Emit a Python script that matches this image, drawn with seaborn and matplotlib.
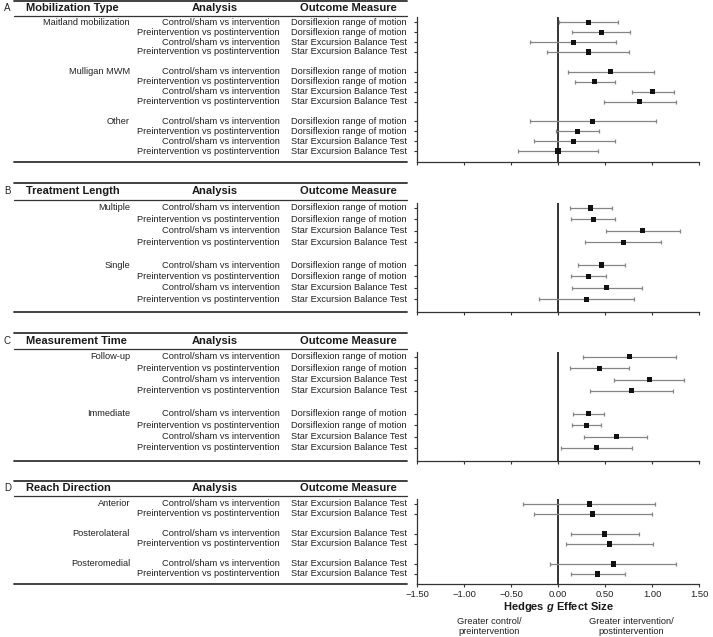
import numpy as np
import pandas as pd
import seaborn as sns
import matplotlib
matplotlib.use("Agg")
import matplotlib.pyplot as plt
from matplotlib.lines import Line2D
from matplotlib import transforms

sns.set_theme(style="ticks")
plt.rcParams["font.family"] = ["Liberation Sans", "DejaVu Sans"]
plt.rcParams["mathtext.fontset"] = "custom"
plt.rcParams["mathtext.it"] = "Liberation Sans:italic:bold"
plt.rcParams["mathtext.rm"] = "Liberation Sans:bold"

# ---------------- data ----------------
CSI = "Control/sham vs intervention"
PVP = "Preintervention vs postintervention"
DRM = "Dorsiflexion range of motion"
SEBT = "Star Excursion Balance Test"

# Panel A
title_A = "Mobilization Type"
groups_A = ["Maitland mobilization", "Mulligan MWM", "Other"]
sizes_A = [4, 4, 4]
analysis_A = [CSI, PVP, CSI, PVP] * 3
outcome_A = [DRM, DRM, SEBT, SEBT] * 3
g_A = [0.32, 0.46, 0.16, 0.32, 0.56, 0.39, 1.01, 0.87, 0.37, 0.21, 0.17, 0.00]
lo_A = [0.01, 0.15, -0.30, -0.12, 0.11, 0.18, 0.79, 0.49, -0.30, -0.02, -0.26, -0.43]
hi_A = [0.64, 0.77, 0.62, 0.76, 1.02, 0.61, 1.23, 1.26, 1.04, 0.44, 0.61, 0.43]

# Panel B
title_B = "Treatment Length"
groups_B = ["Multiple", "Single"]
sizes_B = [4, 4]
analysis_B = [CSI, PVP, CSI, PVP] * 2
outcome_B = [DRM, DRM, SEBT, SEBT] * 2
g_B = [0.35, 0.38, 0.90, 0.70, 0.46, 0.32, 0.52, 0.30]
lo_B = [0.13, 0.14, 0.51, 0.29, 0.21, 0.14, 0.15, -0.20]
hi_B = [0.57, 0.61, 1.30, 1.10, 0.71, 0.51, 0.89, 0.81]

# Panel C
title_C = "Measurement Time"
groups_C = ["Follow-up", "Immediate"]
sizes_C = [4, 4]
analysis_C = [CSI, PVP, CSI, PVP] * 2
outcome_C = [DRM, DRM, SEBT, SEBT] * 2
g_C = [0.76, 0.44, 0.97, 0.78, 0.32, 0.30, 0.62, 0.41]
lo_C = [0.27, 0.13, 0.60, 0.34, 0.16, 0.15, 0.28, 0.03]
hi_C = [1.26, 0.75, 1.34, 1.22, 0.49, 0.46, 0.95, 0.79]

# Panel D
title_D = "Reach Direction"
groups_D = ["Anterior", "Posterolateral", "Posteromedial"]
sizes_D = [2, 2, 2]
analysis_D = [CSI, PVP] * 3
outcome_D = [SEBT] * 6
g_D = [0.33, 0.37, 0.49, 0.55, 0.59, 0.42]
lo_D = [-0.37, -0.26, 0.14, 0.08, -0.08, 0.14]
hi_D = [1.03, 1.00, 0.86, 1.01, 1.26, 0.71]

xticks = [-1.5, -1.0, -0.5, 0.0, 0.5, 1.0, 1.5]
xlabels = ["\u22121.50", "\u22121.00", "\u22120.50", "0.00", "0.50", "1.00", "1.50"]
col_headers = ["Analysis", "Outcome Measure"]
xlabel = r"Hedges $\mathit{g}$ Effect Size"
note_left = "Greater control/\npreintervention"
note_right = "Greater intervention/\npostintervention"

# ---------------- layout (pixels) ----------------
W, H = 713, 637
fig = plt.figure(figsize=(W / 100, H / 100), dpi=100)


def fx(px):
    return px / W


def fy(py):
    return 1 - py / H


AX_L, AX_R = 417, 699
TAB_L, TAB_R = 14, 407
GROUP_X, ANALYSIS_X, OUTCOME_X = 130, 280, 291
TITLE_X, ANALYSIS_HX, OUTCOME_HX = 26, 215, 348
TXT = "#222222"
FS = 6.7

panels = [
    dict(letter="A", title=title_A, groups=groups_A, sizes=sizes_A, analysis=analysis_A,
         outcome=outcome_A, g=g_A, lo=lo_A, hi=hi_A,
         top_line=1, header=8, underline=16, spine_top=17, first=22.3, sp=9.9, bottom=161.5),
    dict(letter="B", title=title_B, groups=groups_B, sizes=sizes_B, analysis=analysis_B,
         outcome=outcome_B, g=g_B, lo=lo_B, hi=hi_B,
         top_line=183, header=191.5, underline=200, spine_top=203, first=208, sp=11.4, bottom=311.5),
    dict(letter="C", title=title_C, groups=groups_C, sizes=sizes_C, analysis=analysis_C,
         outcome=outcome_C, g=g_C, lo=lo_C, hi=hi_C,
         top_line=333, header=341.5, underline=349, spine_top=352, first=356.7, sp=11.4, bottom=460.5),
    dict(letter="D", title=title_D, groups=groups_D, sizes=sizes_D, analysis=analysis_D,
         outcome=outcome_D, g=g_D, lo=lo_D, hi=hi_D,
         top_line=481, header=488, underline=496, spine_top=499, first=504, sp=10.0, bottom=584),
]

for i, p in enumerate(panels):
    # build table with one blank slot between groups
    grp, slot = [], []
    s = 0
    for gi, (name, n) in enumerate(zip(p["groups"], p["sizes"])):
        for k in range(n):
            grp.append(name)
            slot.append(s)
            s += 1
        s += 1
    df = pd.DataFrame({"group": grp, "slot": slot, "analysis": p["analysis"],
                       "outcome": p["outcome"], "g": p["g"], "lo": p["lo"], "hi": p["hi"]})

    top, first, sp, bot = p["spine_top"], p["first"], p["sp"], p["bottom"]
    ax = fig.add_axes([fx(AX_L), fy(bot), fx(AX_R - AX_L), (bot - top) / H])
    ax.set_xlim(-1.5, 1.5)
    ax.set_ylim((bot - first) / sp, -(first - top) / sp)

    ax.axvline(0, color="#333333", lw=1.4, zorder=1)
    ax.errorbar(df["g"], df["slot"], xerr=[df["g"] - df["lo"], df["hi"] - df["g"]],
                fmt="none", ecolor="#858585", elinewidth=0.9, capsize=1.5,
                capthick=0.9, zorder=2)
    sns.scatterplot(data=df, x="g", y="slot", marker="s", s=13, color="#111111",
                    edgecolor="none", ax=ax, zorder=3, legend=False)

    sns.despine(ax=ax)
    for sp_name in ["left", "bottom"]:
        ax.spines[sp_name].set_color("#333333")
        ax.spines[sp_name].set_linewidth(0.9)
    ax.set_yticks(df["slot"])
    ax.set_yticklabels([])
    ax.set_xticks(xticks)
    ax.tick_params(axis="both", direction="out", length=2.5, width=0.8, color="#333333",
                   pad=1.5, labelsize=6.8, labelcolor=TXT)
    ax.set_ylabel("")
    if p["letter"] == "D":
        ax.set_xticklabels(xlabels)
        ax.set_xlabel(xlabel, fontsize=8, fontweight="bold", color="#1a1a1a", labelpad=1)
    else:
        ax.set_xticklabels([])
        ax.set_xlabel("")

    # table text
    tr = transforms.blended_transform_factory(fig.transFigure, ax.transData)
    for _, r in df.iterrows():
        ax.text(fx(ANALYSIS_X), r["slot"], r["analysis"], transform=tr, ha="right",
                va="center", fontsize=FS, color=TXT, clip_on=False)
        ax.text(fx(OUTCOME_X), r["slot"], r["outcome"], transform=tr, ha="left",
                va="center", fontsize=FS, color=TXT, clip_on=False)
    first_rows = df.groupby("group", sort=False)["slot"].min()
    for name, sl in first_rows.items():
        ax.text(fx(GROUP_X), sl, name, transform=tr, ha="right", va="center",
                fontsize=FS, color=TXT, clip_on=False)

    # header
    hy = fy(p["header"])
    fig.text(fx(4), hy, p["letter"], ha="left", va="center", fontsize=7, color=TXT)
    fig.text(fx(TITLE_X), hy, p["title"], ha="left", va="center", fontsize=8,
             fontweight="bold", color="#1a1a1a")
    fig.text(fx(ANALYSIS_HX), hy, col_headers[0], ha="center", va="center", fontsize=8,
             fontweight="bold", color="#1a1a1a")
    fig.text(fx(OUTCOME_HX), hy, col_headers[1], ha="center", va="center", fontsize=8,
             fontweight="bold", color="#1a1a1a")

    # table rules
    for yy, lw in [(p["top_line"], 1.3), (p["underline"], 0.9), (bot, 1.3)]:
        fig.add_artist(Line2D([fx(TAB_L), fx(TAB_R)], [fy(yy), fy(yy)],
                              transform=fig.transFigure, color="#333333", lw=lw))

# direction notes
fig.text(fx(489), fy(626.5), note_left, ha="center", va="center", fontsize=FS,
         color=TXT, linespacing=1.25)
fig.text(fx(631), fy(626.5), note_right, ha="center", va="center", fontsize=FS,
         color=TXT, linespacing=1.25)

fig.savefig("out.png", dpi=100)
